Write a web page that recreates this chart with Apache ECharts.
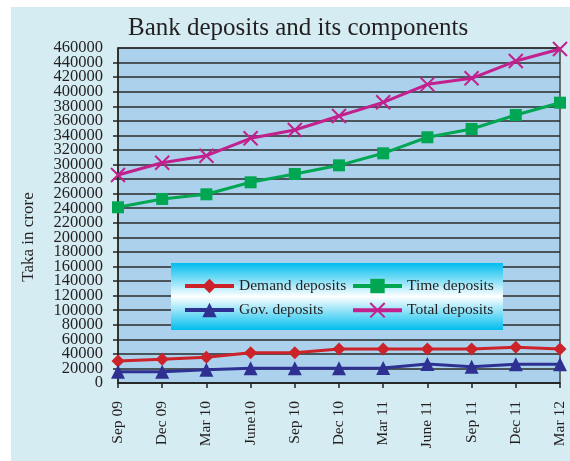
<!DOCTYPE html>
<html><head><meta charset="utf-8">
<script src="https://cdn.jsdelivr.net/npm/echarts@6/dist/echarts.min.js"></script>
<style>html,body{margin:0;padding:0;background:#fff}#c{width:570px;height:461px}</style>
</head><body><div id="c"></div>
<script>
const categories = ['Sep 09','Dec 09','Mar 10','June10','Sep 10','Dec 10','Mar 11','June 11','Sep 11','Dec 11','Mar 12'];
const demandDeposits = [30200, 32500, 35300, 41600, 41600, 46700, 46700, 46700, 46700, 49000, 46700];
const timeDeposits = [241300, 252700, 259100, 275600, 287000, 298900, 315400, 337400, 348800, 368000, 384900];
const govDeposits = [15500, 15500, 18300, 20100, 20100, 20100, 20700, 26100, 22400, 25600, 25600];
const totalDeposits = [285600, 302500, 312100, 336000, 347400, 366600, 385400, 410100, 418400, 442100, 458600];
const yMin = 0, yMax = 460000, yStep = 20000;

const serif = 'Liberation Serif';
const txt = '#231f20';
const chart = echarts.init(document.getElementById('c'));

function lineSeries(name, data, color, symbol, size, extra) {
  return Object.assign({
    name, type: 'line', data, symbol, symbolSize: size, yAxisIndex: 0,
    lineStyle: { color, width: 3 },
    itemStyle: { color },
    z: 3
  }, extra || {});
}

const legendCommon = {
  orient: 'vertical', top: 273, z: 60,
  itemWidth: 49, itemHeight: 18, itemGap: 8, padding: 5,
  lineStyle: { width: 4 },
  textStyle: { fontFamily: serif, fontSize: 15.5, color: txt }
};
const yLabelStyle = { margin: 15, fontFamily: serif, fontSize: 16.5, color: txt, formatter: v => String(v) };

chart.setOption({
  animation: false,
  backgroundColor: '#ffffff',
  title: {
    text: 'Bank deposits and its components',
    left: 123, top: 11,
    textStyle: { fontFamily: serif, fontSize: 25, fontWeight: 'normal', color: txt }
  },
  graphic: [
    { type: 'rect', z: -10, shape: { x: 11, y: 7, width: 559, height: 454 }, style: { fill: '#d5edf2' } },
    { type: 'rect', z: 50, shape: { x: 171, y: 263, width: 332, height: 67 },
      style: { fill: new echarts.graphic.LinearGradient(0, 0, 0, 1, [
        { offset: 0, color: '#00bdee' }, { offset: 0.5, color: '#ffffff' }, { offset: 1, color: '#00bdee' }]) } },
    { type: 'text', z: 60, x: 29, y: 237, rotation: Math.PI / 2,
      style: { text: 'Taka in crore', fontFamily: serif, fontSize: 17, fill: txt, align: 'center', verticalAlign: 'middle' } }
  ],
  legend: [
    Object.assign({ data: ['Demand deposits', 'Gov. deposits'], left: 178 }, legendCommon),
    Object.assign({ data: ['Time deposits', 'Total deposits'], left: 346 }, legendCommon)
  ],
  grid: {
    left: 118, right: 10, top: 48, bottom: 78, show: true,
    backgroundColor: '#abd1ed', borderColor: '#444', borderWidth: 1.5
  },
  xAxis: {
    type: 'category', data: categories, boundaryGap: false,
    axisLine: { lineStyle: { color: '#222', width: 1.5 } },
    axisTick: { show: true, length: 5, inside: false, lineStyle: { color: '#222', width: 1.5 } },
    axisLabel: { rotate: 90, margin: 18, fontFamily: serif, fontSize: 15.5, color: txt }
  },
  yAxis: [
    {
      type: 'value', min: yMin, max: yMax, interval: yStep, position: 'left',
      axisLine: { show: true, lineStyle: { color: '#222', width: 1.5 } },
      axisTick: { show: true, length: 5, lineStyle: { color: '#222', width: 1.5 } },
      splitLine: { lineStyle: { color: '#2a2a2a', width: 1.5 } },
      axisLabel: Object.assign({ showMinLabel: false, showMaxLabel: false }, yLabelStyle)
    },
    {
      type: 'value', min: yMin, max: yMax, interval: yMax - yMin, position: 'left', offset: 0,
      axisLine: { show: false }, axisTick: { show: false }, splitLine: { show: false },
      axisLabel: Object.assign({ showMinLabel: true, showMaxLabel: true }, yLabelStyle)
    }
  ],
  series: [
    lineSeries('Demand deposits', demandDeposits, '#cc2229', 'diamond', 13),
    lineSeries('Time deposits', timeDeposits, '#00a651', 'rect', 12),
    lineSeries('Gov. deposits', govDeposits, '#2e3192', 'triangle', 14),
    lineSeries('Total deposits', totalDeposits, '#c2208c', 'path://M0,0L10,10M0,10L10,0', 14,
      { itemStyle: { color: '#c2208c', borderColor: '#c2208c', borderWidth: 2 } })
  ]
});
</script></body></html>
